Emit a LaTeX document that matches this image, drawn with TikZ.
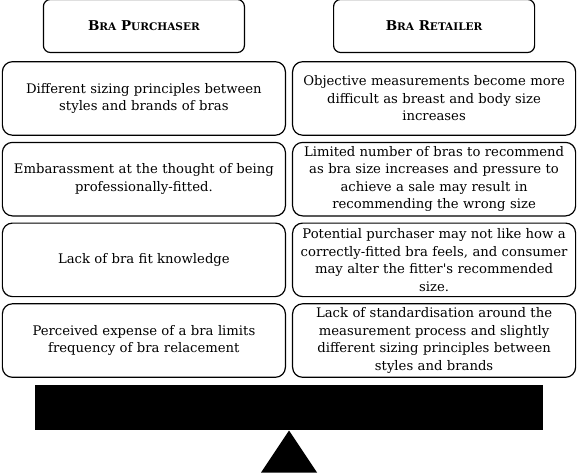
\documentclass[tikz,border=0pt]{standalone}
\usepackage{fontspec}
\setmainfont{DejaVu Serif}
\usetikzlibrary{positioning}
\newcommand\lowcaps[1]{{\fontsize{10.5}{12}\selectfont #1}}

\begin{document}
\begin{tikzpicture}[x=1pt,y=1pt,
cell/.style={draw,rounded corners=10pt,line width=1.2pt,minimum width=283pt,minimum height=73.5pt,text width=276pt,inner sep=2pt,align=center,font=\fontsize{13.2}{17.5}\selectfont},
head/.style={draw,rounded corners=7pt,line width=1.2pt,minimum width=201pt,minimum height=53pt,font=\bfseries\fontsize{13.5}{16}\selectfont}]
\useasboundingbox (0,0) rectangle (578,472);
\matrix (bal) at (289,252.5) [row sep=6pt,column sep=6pt,inner sep=0pt] {
\node (pur1) [cell] {Different sizing principles between\\styles and brands of bras};
&
\node (ret1) [cell] {Objective measurements become more\\difficult as breast and body size\\increases};
\\
\node (pur2) [cell] {Embarassment at the thought of being\\professionally-fitted.};
&
\node (ret2) [cell] {Limited number of bras to recommend\\as bra size increases and pressure to\\achieve a sale may result in\\recommending the wrong size};
\\
\node (pur3) [cell] {Lack of bra fit knowledge};
&
\node (ret3) [cell] {Potential purchaser may not like how a\\correctly-fitted bra feels, and consumer\\may alter the fitter\textquotesingle s recommended\\size.};
\\
\node (pur4) [cell] {Perceived expense of a bra limits\\frequency of bra relacement};
&
\node (ret4) [cell] {Lack of standardisation around the\\measurement process and slightly\\different sizing principles between\\styles and brands};
\\
};
\node (hpur) [head,above=8pt of pur1] {B\lowcaps{RA} P\lowcaps{URCHASER}};
\node (hret) [head,above=8pt of ret1] {B\lowcaps{RA} R\lowcaps{ETAILER}};
\node (beam) [fill=black,minimum width=508pt,minimum height=45pt,inner sep=0pt,below=7pt of bal] {};
\fill (beam.south) -- ++(-28,-42) -- ++(56,0) -- cycle;
\end{tikzpicture}
\end{document}
